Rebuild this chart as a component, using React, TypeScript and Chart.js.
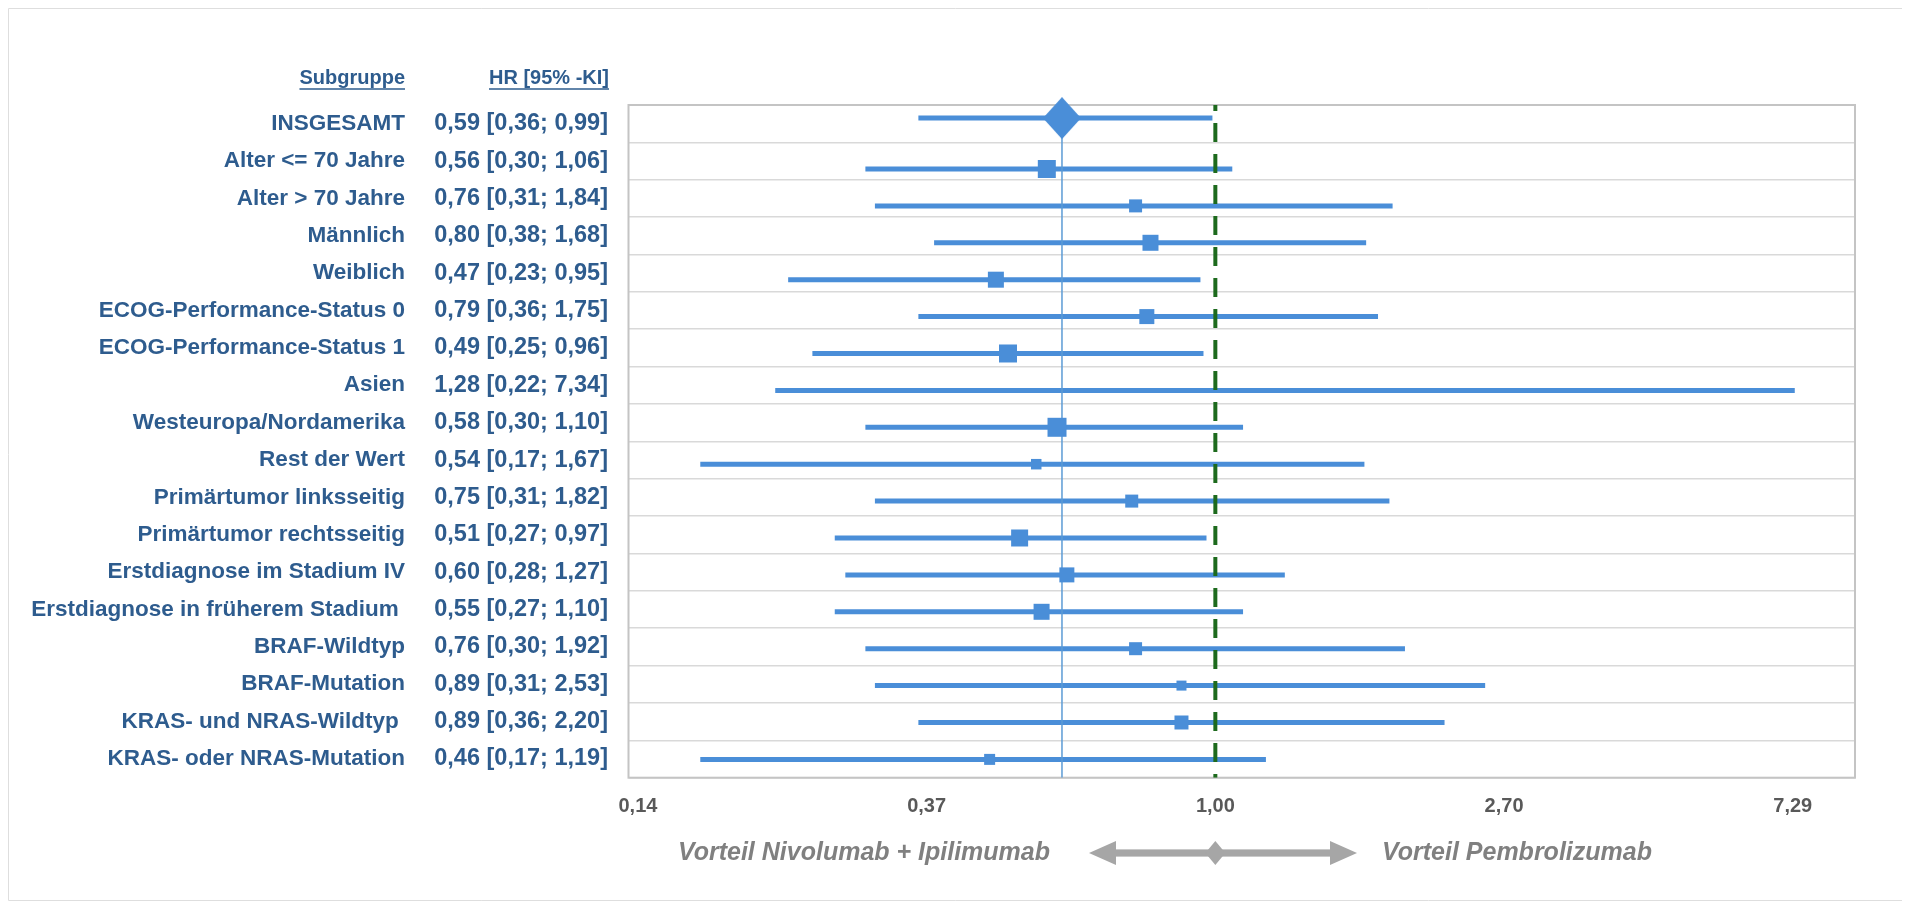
import React, { useEffect, useRef } from 'react';
import { Chart, registerables } from 'chart.js';

Chart.register(...registerables);

// ---------- data ----------
const subgroups = [
  'INSGESAMT',
  'Alter <= 70 Jahre',
  'Alter > 70 Jahre',
  'Männlich',
  'Weiblich',
  'ECOG-Performance-Status 0',
  'ECOG-Performance-Status 1',
  'Asien',
  'Westeuropa/Nordamerika',
  'Rest der Wert',
  'Primärtumor linksseitig',
  'Primärtumor rechtsseitig',
  'Erstdiagnose im Stadium IV',
  'Erstdiagnose in früherem Stadium ',
  'BRAF-Wildtyp',
  'BRAF-Mutation',
  'KRAS- und NRAS-Wildtyp ',
  'KRAS- oder NRAS-Mutation',
];
const hazardRatio = [0.59, 0.56, 0.76, 0.8, 0.47, 0.79, 0.49, 1.28, 0.58, 0.54, 0.75, 0.51, 0.6, 0.55, 0.76, 0.89, 0.89, 0.46];
const ciLower = [0.36, 0.3, 0.31, 0.38, 0.23, 0.36, 0.25, 0.22, 0.3, 0.17, 0.31, 0.27, 0.28, 0.27, 0.3, 0.31, 0.36, 0.17];
const ciUpper = [0.99, 1.06, 1.84, 1.68, 0.95, 1.75, 0.96, 7.34, 1.1, 1.67, 1.82, 0.97, 1.27, 1.1, 1.92, 2.53, 2.2, 1.19];
// marker weight shown as square side (px); first entry is the overall diamond
const markerSide = [38, 18, 13, 16, 16, 15, 18, 4, 19, 10.5, 13, 17, 15, 16, 13, 10, 14, 11];
const xTickValues = [0.13717, 0.37037, 1, 2.7, 7.29];
const headerSubgroup = 'Subgruppe';
const headerHR = 'HR [95% -KI]';
const leftNote = 'Vorteil Nivolumab + Ipilimumab';
const rightNote = 'Vorteil Pembrolizumab';

// ---------- layout / style ----------
const W = 1894;
const H = 894;
const X_MIN = 0.1328;
const X_MAX = 9.03;
const Y_MIN = -0.734;
const Y_MAX = 17.496;
const ROWS = subgroups.length;
const BLUE = '#4a8ed8';
const TEXT_BLUE = '#2e5c8e';
const FONT = '"Liberation Sans", Arial, sans-serif';

const rowValue = (i: number) => (i === 0 ? -0.38 : i);
const fmt = (v: number) => v.toFixed(2).replace('.', ',');

function makeDiamond(w: number, h: number, color: string) {
  const c = document.createElement('canvas');
  c.width = w;
  c.height = h;
  const g = c.getContext('2d')!;
  g.fillStyle = color;
  g.beginPath();
  g.moveTo(w / 2, 0);
  g.lineTo(w, h / 2);
  g.lineTo(w / 2, h);
  g.lineTo(0, h / 2);
  g.closePath();
  g.fill();
  return c;
}

const forestPlugin = {
  id: 'forestDecor',
  beforeDatasetsDraw(chart: any) {
    const { ctx, chartArea } = chart;
    ctx.save();
    ctx.strokeStyle = '#c4c4c4';
    ctx.lineWidth = 2;
    ctx.strokeRect(chartArea.left, chartArea.top, chartArea.right - chartArea.left, chartArea.bottom - chartArea.top);
    ctx.restore();
  },
  afterDraw(chart: any) {
    const { ctx } = chart;
    const xs = chart.scales.x;
    const ys = chart.scales.y;
    const step = (Y_MAX - Y_MIN) / ROWS;
    ctx.save();
    // outer frame
    ctx.strokeStyle = '#dedede';
    ctx.lineWidth = 1;
    ctx.beginPath();
    ctx.moveTo(W, 0.5);
    ctx.lineTo(0.5, 0.5);
    ctx.lineTo(0.5, H - 1.5);
    ctx.lineTo(W, H - 1.5);
    ctx.stroke();

    // headers
    ctx.fillStyle = TEXT_BLUE;
    ctx.strokeStyle = TEXT_BLUE;
    ctx.font = `bold 20px ${FONT}`;
    ctx.textBaseline = 'middle';
    ctx.textAlign = 'right';
    const hy = 70;
    const headers: [string, number][] = [[headerSubgroup, 397], [headerHR, 601]];
    headers.forEach(([t, x]) => {
      ctx.fillText(t, x, hy);
      const w = ctx.measureText(t).width;
      ctx.lineWidth = 1.5;
      ctx.beginPath();
      ctx.moveTo(x - w, hy + 11);
      ctx.lineTo(x, hy + 11);
      ctx.stroke();
    });

    // row labels
    subgroups.forEach((s, i) => {
      const y = ys.getPixelForValue(Y_MIN + (i + 0.5) * step);
      ctx.textAlign = 'right';
      ctx.font = `bold 22.5px ${FONT}`;
      ctx.fillText(s, 397, y);
      ctx.font = `bold 23.5px ${FONT}`;
      ctx.fillText(`${fmt(hazardRatio[i])} [${fmt(ciLower[i])}; ${fmt(ciUpper[i])}]`, 600, y);
    });

    // bottom arrow
    const ay = 845;
    const xc = xs.getPixelForValue(1);
    const xl = 1081;
    const xr = 1349;
    ctx.fillStyle = '#a6a6a6';
    ctx.fillRect(xl + 20, ay - 3.6, xr - xl - 40, 7.2);
    ctx.beginPath();
    ctx.moveTo(xl, ay);
    ctx.lineTo(xl + 27, ay - 12);
    ctx.lineTo(xl + 27, ay + 12);
    ctx.closePath();
    ctx.fill();
    ctx.beginPath();
    ctx.moveTo(xr, ay);
    ctx.lineTo(xr - 27, ay - 12);
    ctx.lineTo(xr - 27, ay + 12);
    ctx.closePath();
    ctx.fill();
    ctx.beginPath();
    ctx.moveTo(xc - 10, ay);
    ctx.lineTo(xc, ay - 12);
    ctx.lineTo(xc + 10, ay);
    ctx.lineTo(xc, ay + 12);
    ctx.closePath();
    ctx.fill();

    // notes
    ctx.fillStyle = '#808080';
    ctx.font = `italic bold 25px ${FONT}`;
    ctx.textAlign = 'right';
    ctx.fillText(leftNote, 1042, ay);
    ctx.textAlign = 'left';
    ctx.fillText(rightNote, 1374, ay);
    ctx.restore();
  },
};

export default function App() {
  const ref = useRef<HTMLCanvasElement | null>(null);

  useEffect(() => {
    if (!ref.current) return;
    const step = (Y_MAX - Y_MIN) / ROWS;
    const gridValues = Array.from({ length: ROWS + 1 }, (_, k) => Y_MIN + k * step);

    const ciDatasets = subgroups.map((s, i) => ({
      type: 'line' as const,
      label: s,
      data: [
        { x: ciLower[i], y: rowValue(i) },
        { x: ciUpper[i], y: rowValue(i) },
      ],
      borderColor: BLUE,
      borderWidth: 5,
      borderCapStyle: 'butt',
      pointRadius: 0,
      showLine: true,
      order: 5,
    }));

    const diamond = makeDiamond(markerSide[0], 42, BLUE);
    const pointStyles = hazardRatio.map((_, i) => (i === 0 ? diamond : 'rect'));
    const pointRadii = markerSide.map((s, i) => (i === 0 ? s / 2 : s / Math.SQRT2));

    const datasets: any[] = [
      ...ciDatasets,
      {
        type: 'line',
        label: 'Gesamt-HR',
        data: [
          { x: hazardRatio[0], y: rowValue(0) },
          { x: hazardRatio[0], y: Y_MAX },
        ],
        borderColor: '#5b9bd5',
        borderWidth: 1.5,
        pointRadius: 0,
        showLine: true,
        order: 3,
      },
      {
        type: 'line',
        label: 'HR = 1',
        data: [
          { x: 1, y: Y_MIN },
          { x: 1, y: Y_MAX },
        ],
        borderColor: '#1d6a1d',
        borderWidth: 4,
        borderDash: [19, 12],
        borderDashOffset: 13,
        borderCapStyle: 'butt',
        pointRadius: 0,
        showLine: true,
        order: 2,
      },
      {
        type: 'scatter',
        label: 'HR',
        data: hazardRatio.map((v, i) => ({ x: v, y: rowValue(i) })),
        backgroundColor: BLUE,
        borderWidth: 0,
        pointStyle: pointStyles,
        pointRadius: pointRadii,
        clip: false,
        order: 1,
      },
    ];

    const chart = new Chart(ref.current, {
      type: 'scatter',
      data: { datasets },
      options: {
        animation: false,
        responsive: false,
        maintainAspectRatio: false,
        layout: { padding: { left: 620.5, right: 47, top: 97, bottom: 0 } },
        plugins: { legend: { display: false }, tooltip: { enabled: false } },
        scales: {
          x: {
            type: 'logarithmic',
            min: X_MIN,
            max: X_MAX,
            grid: { display: false, drawTicks: false },
            border: { display: false },
            ticks: {
              autoSkip: false,
              maxRotation: 0,
              padding: 17,
              color: '#595959',
              font: { family: FONT, size: 20, weight: 'bold' },
              callback: (v: any) => fmt(Number(v)),
            },
            afterBuildTicks: (s: any) => {
              s.ticks = xTickValues.map((v) => ({ value: v }));
            },
            afterFit: (s: any) => {
              s.height = 124.3;
            },
          },
          y: {
            type: 'linear',
            reverse: true,
            min: Y_MIN,
            max: Y_MAX,
            ticks: { display: false },
            grid: { color: '#d9d9d9', lineWidth: 1.5, drawTicks: false },
            border: { display: false },
            afterBuildTicks: (s: any) => {
              s.ticks = gridValues.map((v) => ({ value: v }));
            },
            afterFit: (s: any) => {
              s.width = 0;
            },
          },
        },
      } as any,
      plugins: [forestPlugin],
    });

    return () => chart.destroy();
  }, []);

  return (
    <div style={{ width: W, height: H }}>
      <canvas ref={ref} width={W} height={H} style={{ display: 'block', width: W, height: H }} />
    </div>
  );
}
